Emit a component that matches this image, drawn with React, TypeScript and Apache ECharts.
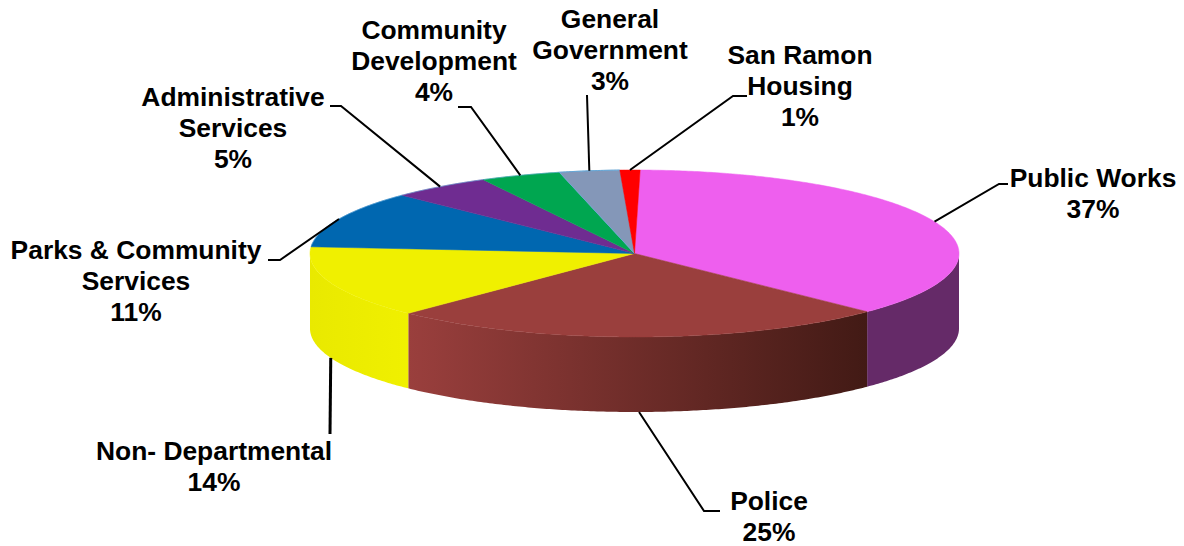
import React, { useEffect, useRef } from "react";
import * as echarts from "echarts";

// Budget shares by department, clockwise from just past twelve o'clock.
const departments = [
  "Public Works",
  "Police",
  "Non- Departmental",
  "Parks & Community\nServices",
  "Administrative\nServices",
  "Community\nDevelopment",
  "General\nGovernment",
  "San Ramon\nHousing",
];
const shares = [37, 25, 14, 11, 5, 4, 3, 1];
const topColors = ["#EE5FEE", "#9A3F3D", "#F0F000", "#0067B0", "#6F2C91", "#00A650", "#8497B8", "#FF0000"];
const sideStops = [
  ["#652A68", "#652A68"],
  ["#9A3F3D", "#421A15"],
  ["#E9E900", "#F0F000"],
  ["#00508A", "#00508A"],
  ["#562270", "#562270"],
  ["#00803E", "#00803E"],
  ["#66758E", "#66758E"],
  ["#C00000", "#C00000"],
];

// Disc geometry in page pixels.
const CX = 634.5;
const CY = 253.5;
const RX = 324.5;
const RY = 83.5;
const DEPTH = 75;
const ROTATION = (1 * Math.PI) / 180;

// Where each leader line bends and ends, and where its label is centred.
const leaderBends = [
  [[999, 184], [1008, 184]],
  [[704, 511], [720, 511]],
  [[330, 434]],
  [[280, 260], [268, 260]],
  [[341, 106], [330, 106]],
  [[471, 107], [458, 107]],
  [[587, 95]],
  [[733, 96], [747, 96]],
];
const labelCentres = [
  [1093, 193],
  [769, 516],
  [214, 466],
  [136, 281],
  [233, 128],
  [434, 61],
  [610, 50],
  [800, 86],
];

const total = shares.reduce((a, b) => a + b, 0);
const startAngle = (i: number) =>
  (shares.slice(0, i).reduce((a, b) => a + b, 0) / total) * Math.PI * 2 + ROTATION;
const rim = (a: number, drop = 0): number[] => [CX + RX * Math.sin(a), CY - RY * Math.cos(a) + drop];

function arcPoints(from: number, to: number, drop = 0): number[][] {
  const steps = Math.max(2, Math.ceil((to - from) / 0.01));
  const pts: number[][] = [];
  for (let s = 0; s <= steps; s++) pts.push(rim(from + ((to - from) * s) / steps, drop));
  return pts;
}

// The wall is only visible on the near half of the ellipse.
function renderSide(_: unknown, api: any) {
  const i = api.value(0);
  const from = Math.max(startAngle(i), Math.PI / 2);
  const to = Math.min(startAngle(i + 1), (Math.PI * 3) / 2);
  if (to <= from) return { type: "group", children: [] };
  const [c0, c1] = sideStops[i];
  return {
    type: "polygon",
    shape: { points: [...arcPoints(from, to), ...arcPoints(from, to, DEPTH).reverse()] },
    style: {
      fill: new echarts.graphic.LinearGradient(0, 0, 1, 0, [
        { offset: 0, color: c0 },
        { offset: 1, color: c1 },
      ]),
    },
  };
}

function renderTop(_: unknown, api: any) {
  const i = api.value(0);
  const isGrey = departments[i].startsWith("General");
  return {
    type: "polygon",
    shape: { points: [[CX, CY], ...arcPoints(startAngle(i), startAngle(i + 1))] },
    style: {
      fill: topColors[i],
      stroke: isGrey ? "#6FA6D2" : topColors[i],
      lineWidth: isGrey ? 1 : 0.5,
    },
  };
}

function renderBackRim() {
  return {
    type: "polyline",
    shape: { points: arcPoints(startAngle(3) + 0.02, startAngle(7)) },
    style: { fill: "none", stroke: "#5CA6D8", lineWidth: 1, opacity: 0.55 },
  };
}

function renderLabel(_: unknown, api: any) {
  const i = api.value(0);
  const mid = (startAngle(i) + startAngle(i + 1)) / 2;
  const onFront = Math.cos(mid) < -0.3;
  const anchor = rim(mid, onFront ? DEPTH : 0);
  const [lx, ly] = labelCentres[i];
  return {
    type: "group",
    children: [
      {
        type: "polyline",
        shape: { points: [anchor, ...leaderBends[i]] },
        style: { fill: "none", stroke: "#000", lineWidth: departments[i].startsWith("Non") ? 3 : 2 },
      },
      {
        type: "text",
        x: lx,
        y: ly,
        style: {
          text: `${departments[i]}\n${shares[i]}%`,
          fontFamily: "Liberation Sans",
          fontWeight: "bold",
          fontSize: 26.4,
          lineHeight: 31,
          fill: "#000",
          align: "center",
          verticalAlign: "middle",
        },
      },
    ],
  };
}

export default function App() {
  const ref = useRef<HTMLDivElement>(null);
  useEffect(() => {
    const chart = echarts.init(ref.current!, null, { renderer: "svg" });
    const rows = shares.map((_, i) => [i]);
    const layer = (renderItem: any, z: number, data: number[][] = rows) => ({
      type: "custom" as const,
      coordinateSystem: "none",
      renderItem,
      data,
      z,
      silent: true,
    });
    chart.setOption({
      animation: false,
      backgroundColor: "#fff",
      series: [
        layer(renderSide, 1),
        layer(renderTop, 2),
        layer(renderBackRim, 3, [[0]]),
        layer(renderLabel, 4),
      ],
    });
    return () => chart.dispose();
  }, []);
  return <div ref={ref} style={{ position: "absolute", left: 0, top: 0, width: 1184, height: 546 }} />;
}
